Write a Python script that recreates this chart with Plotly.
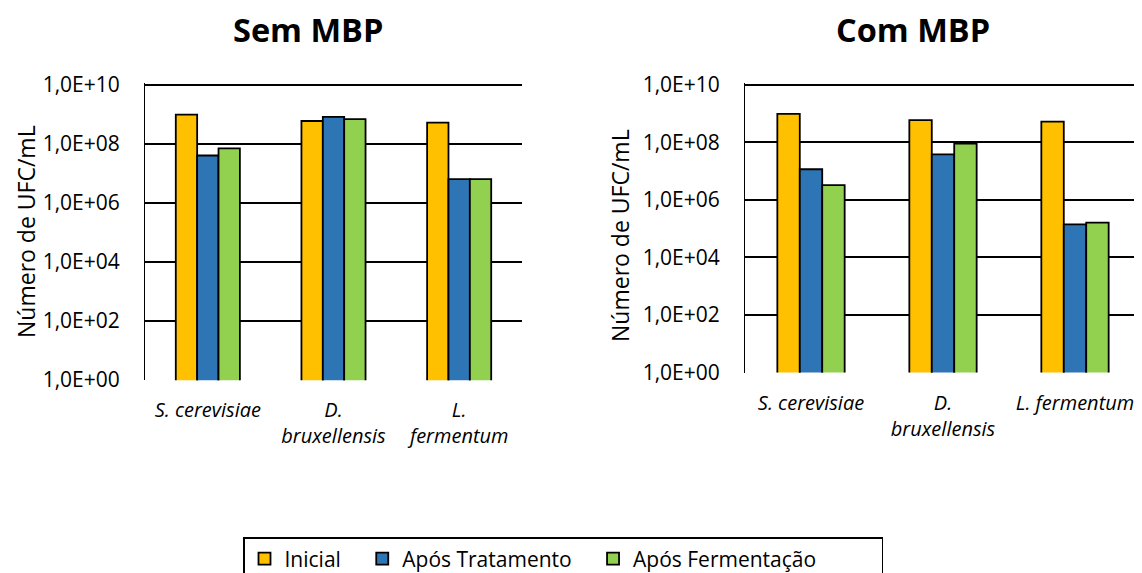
import plotly.graph_objects as go

W, H = 1142, 573
OFF = 8  # page body margin offset

categories_left = ["S. cerevisiae", "D.<br>bruxellensis", "L.<br>fermentum"]
categories_right = ["S. cerevisiae", "D.<br>bruxellensis", "L. fermentum"]
series_names = ["Inicial\u00a0\u00a0\u00a0", "Após Tratamento\u00a0\u00a0\u00a0",
                "Após Fermentação" + "\u00a0" * 11]
colors = ["#FFC000", "#2E75B6", "#92D050"]

# Sem MBP (UFC/mL)
sem_inicial = [9.7e8, 5.9e8, 5.2e8]
sem_tratamento = [4.0e7, 8.1e8, 6.3e6]
sem_fermentacao = [7.0e7, 6.8e8, 6.3e6]

# Com MBP (UFC/mL)
com_inicial = [9.7e8, 5.9e8, 5.2e8]
com_tratamento = [1.15e7, 3.8e7, 1.4e5]
com_fermentacao = [3.2e6, 8.9e7, 1.6e5]

tick_vals = [1, 1e2, 1e4, 1e6, 1e8, 1e10]
tick_text = ["1,0E+00", "1,0E+02", "1,0E+04", "1,0E+06", "1,0E+08", "1,0E+10"]

FONT = "Open Sans"

fig = go.Figure()
sem = [sem_inicial, sem_tratamento, sem_fermentacao]
com = [com_inicial, com_tratamento, com_fermentacao]
for i in range(3):
    fig.add_trace(go.Bar(x=[0, 1, 2], y=sem[i], name=series_names[i],
                         marker=dict(color=colors[i], line=dict(color="black", width=1.8)),
                         xaxis="x", yaxis="y", legendgroup=str(i), showlegend=True))
for i in range(3):
    fig.add_trace(go.Bar(x=[0, 1, 2], y=com[i], name=series_names[i],
                         marker=dict(color=colors[i], line=dict(color="black", width=1.8)),
                         xaxis="x2", yaxis="y2", legendgroup=str(i), showlegend=False))

def px_x(p):
    return (p - OFF) / W

def px_y(p):
    return 1 - (p - OFF) / H

yax_common = dict(type="log", range=[-0.01, 10.06], tickvals=tick_vals, ticktext=tick_text,
                  showgrid=True, gridcolor="black", gridwidth=1.8, showline=True,
                  linecolor="black", linewidth=1, ticks="", ticklabelstandoff=20,
                  automargin=False,
                  tickfont=dict(family=FONT, size=21, color="black"), zeroline=False)
xax_common = dict(range=[-0.5, 2.5], tickvals=[0, 1, 2], showgrid=False, showline=False,
                  zeroline=False, ticks="", automargin=False, ticklabelstandoff=16,
                  tickfont=dict(family=FONT, size=20, color="black", style="italic"))

dec = 29.6  # px per decade (for domain bookkeeping)
fig.update_layout(
    width=W, height=H,
    margin=dict(l=0, r=0, t=0, b=0, autoexpand=False),
    paper_bgcolor="white", plot_bgcolor="white",
    barmode="group", bargap=0.49, bargroupgap=0,
    xaxis=dict(domain=[px_x(145), px_x(522)], anchor="y", ticktext=categories_left, **xax_common),
    yaxis=dict(domain=[px_y(380 + 0.01 * dec), px_y(84.7 - 0.06 * dec)], anchor="x", **yax_common),
    xaxis2=dict(domain=[px_x(745), px_x(1141)], anchor="y2", ticktext=categories_right, **xax_common),
    yaxis2=dict(domain=[px_y(372.3 + 0.01 * 28.8), px_y(84.7 - 0.06 * 28.8)], anchor="x2", **yax_common),
    showlegend=True,
    legend=dict(orientation="h", x=px_x(243), y=px_y(537), xanchor="left", yanchor="top",
                bordercolor="black", borderwidth=1.5, font=dict(family=FONT, size=21, color="black"),
                traceorder="normal"),
    annotations=[
        dict(text="<b>Sem MBP</b>", x=px_x(308), y=px_y(30), xref="paper", yref="paper",
             xanchor="center", yanchor="middle",
             showarrow=False, font=dict(family=FONT, size=32.5, color="black")),
        dict(text="<b>Com MBP</b>", x=px_x(913), y=px_y(30), xref="paper", yref="paper",
             xanchor="center", yanchor="middle",
             showarrow=False, font=dict(family=FONT, size=32.5, color="black")),
        dict(text="Número de UFC/mL", x=px_x(26), y=px_y(232), xref="paper", yref="paper",
             xanchor="center", yanchor="middle",
             showarrow=False, textangle=-90, font=dict(family=FONT, size=23, color="black")),
        dict(text="Número de UFC/mL", x=px_x(620), y=px_y(236), xref="paper", yref="paper",
             xanchor="center", yanchor="middle",
             showarrow=False, textangle=-90, font=dict(family=FONT, size=23, color="black")),
    ],
)

fig.write_html("out.html")
